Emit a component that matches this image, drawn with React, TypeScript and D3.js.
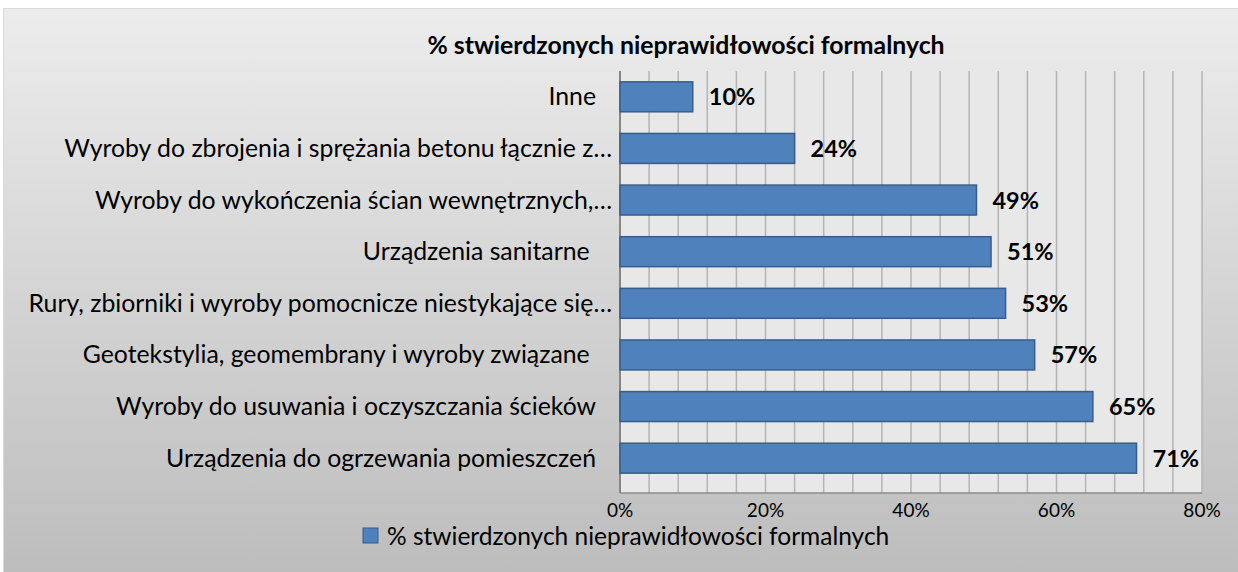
import React from "react";
import * as d3 from "d3";

const title = "% stwierdzonych nieprawidłowości formalnych";
const seriesName = "% stwierdzonych nieprawidłowości formalnych";
const categories = [
  "Inne",
  "Wyroby do zbrojenia i sprężania betonu łącznie z…",
  "Wyroby do wykończenia ścian wewnętrznych,…",
  "Urządzenia sanitarne ",
  "Rury, zbiorniki i wyroby pomocnicze niestykające się…",
  "Geotekstylia, geomembrany i wyroby związane ",
  "Wyroby do usuwania i oczyszczania ścieków",
  "Urządzenia do ogrzewania pomieszczeń",
];
const values = [0.1, 0.24, 0.49, 0.51, 0.53, 0.57, 0.65, 0.71];
const majorTicks = [0, 0.2, 0.4, 0.6, 0.8];
const gridStep = 0.04;

const W = 1238;
const H = 572;
const FONT = "Lato, 'Open Sans', sans-serif";

export default function App() {
  const x = d3.scaleLinear().domain([0, 0.8]).range([620, 1202]);
  const y = d3
    .scaleBand<string>()
    .domain(categories)
    .range([71, 484])
    .paddingInner(0.42)
    .paddingOuter(0.21);
  const plotTop = 71;
  const plotBottom = 493;
  const grid = d3.range(1, 21).map((i) => i * gridStep);
  const pct = d3.format(".0%");

  return (
    <svg
      width={W}
      height={H}
      style={{ position: "absolute", left: 0, top: 0, display: "block" }}
      fontFamily={FONT}
    >
      <defs>
        <linearGradient id="bg" x1="0" y1="0" x2="0" y2="1">
          <stop offset="0" stopColor="#ececec" />
          <stop offset="1" stopColor="#bdbdbd" />
        </linearGradient>
      </defs>
      <rect x={0} y={0} width={W} height={H} fill="#ffffff" />
      <rect x={3} y={8} width={W - 3} height={H - 8} fill="#dadada" />
      <rect x={4} y={9} width={W - 4} height={H - 9} fill="url(#bg)" />
      <text
        x={686}
        y={54}
        textAnchor="middle"
        fontWeight="bold"
        fontSize={24.8}
        fill="#000"
      >
        {title}
      </text>
      <rect
        x={x(0)}
        y={plotTop}
        width={x(0.8) - x(0)}
        height={plotBottom - plotTop}
        fill="#e8e8e8"
      />
      {grid.map((g) => (
        <line
          key={g}
          x1={x(g)}
          x2={x(g)}
          y1={plotTop}
          y2={plotBottom}
          stroke="#b4b4b4"
          strokeWidth={1.5}
        />
      ))}
      <line
        x1={x(0)}
        x2={x(0.8)}
        y1={plotBottom}
        y2={plotBottom}
        stroke="#8c8c8c"
        strokeWidth={1.5}
      />
      <line
        x1={x(0)}
        x2={x(0)}
        y1={plotTop}
        y2={plotBottom}
        stroke="#868686"
        strokeWidth={2}
      />
      {categories.map((c, i) => {
        const cy = y(c)! + y.bandwidth() / 2;
        const trunc = c.endsWith("…");
        return (
          <g key={c}>
            <rect
              x={x(0)}
              y={y(c)!}
              width={x(values[i]) - x(0)}
              height={y.bandwidth()}
              fill="#4f81bd"
              stroke="#385d8a"
              strokeWidth={1.5}
            />
            <text
              x={x(values[i]) + 16}
              y={cy + 8.5}
              fontWeight="bold"
              fontSize={23.5}
              fill="#000"
            >
              {pct(values[i])}
            </text>
            <text
              x={trunc ? 612 : 596}
              y={cy + 8.5}
              textAnchor="end"
              fontSize={24.8}
              fill="#000"
              style={{ whiteSpace: "pre" }}
            >
              {c}
            </text>
          </g>
        );
      })}
      {majorTicks.map((t) => (
        <text key={t} x={x(t)} y={517} textAnchor="middle" fontSize={19} fill="#000">
          {pct(t)}
        </text>
      ))}
      <rect
        x={363}
        y={528}
        width={15}
        height={15}
        fill="#4f81bd"
        stroke="#385d8a"
        strokeWidth={1}
      />
      <text x={387} y={545} fontSize={24.5} fill="#000">
        {seriesName}
      </text>
    </svg>
  );
}
